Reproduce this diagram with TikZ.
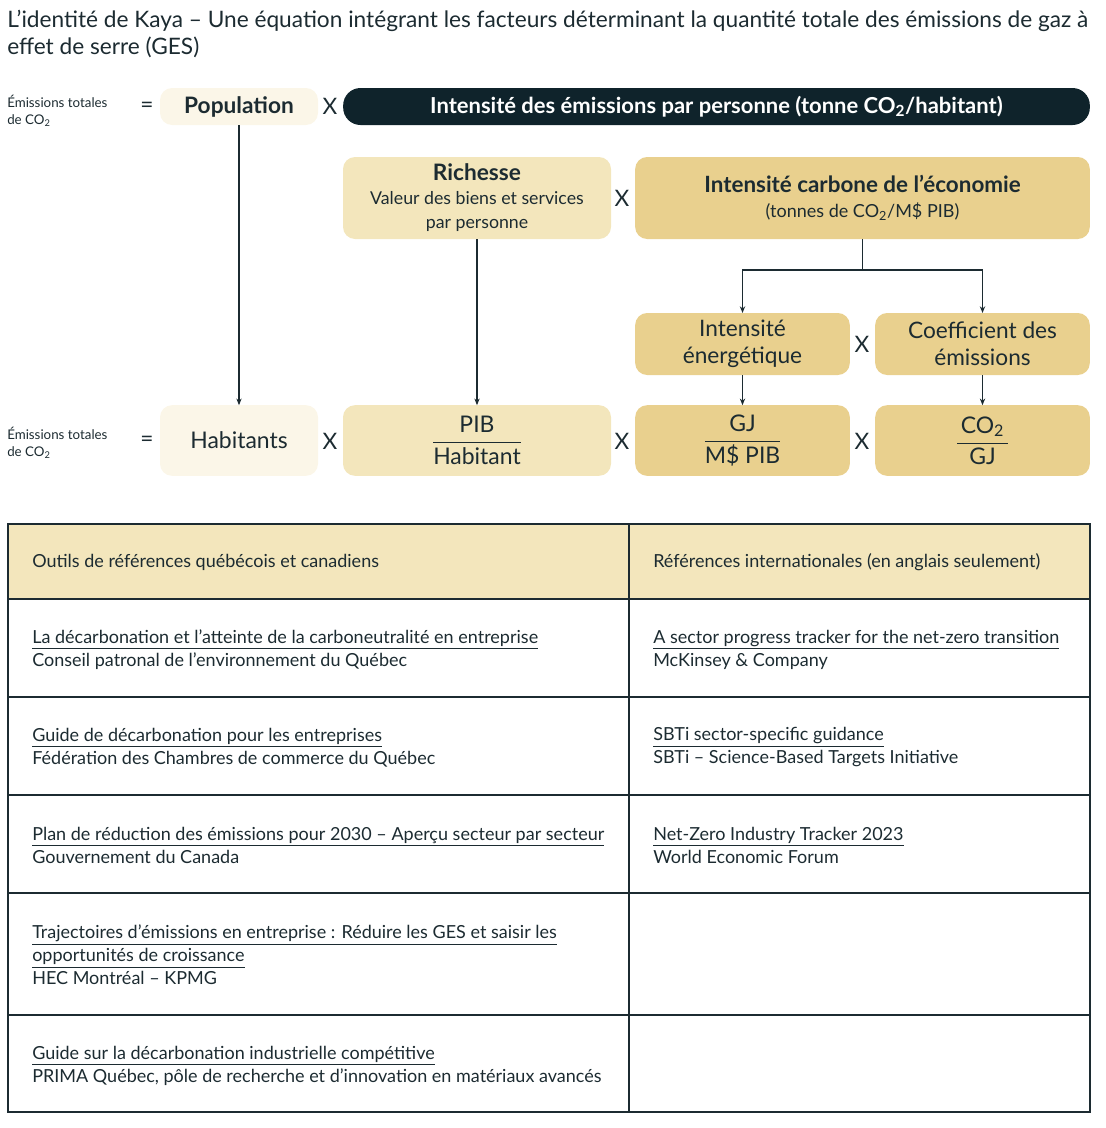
\documentclass[tikz,border=0pt]{standalone}
\usepackage{fontspec}
\setmainfont{Lato}
\usetikzlibrary{arrows.meta}
\definecolor{kayacream}{HTML}{FBF6E8}
\definecolor{kayasand}{HTML}{F3E6BC}
\definecolor{kayagold}{HTML}{E9D08E}
\definecolor{kayanight}{HTML}{0F232B}
\definecolor{kayaink}{HTML}{1C2B31}
\newcommand\kfrac[2]{$\displaystyle\frac{\mbox{#1}}{\mbox{#2}}$}
\newcommand\cotwo{CO\textsubscript{2}}
\tikzset{
	kbox/.style={rounded corners=9pt, inner sep=0pt, outer sep=0pt, align=center, text=kayaink},
	times/.style={text=kayaink, font=\fontsize{17}{19}\selectfont},
	flow/.style={draw=kayaink, line width=0.9pt, -{Stealth[length=5pt,width=4pt]}},
	cell/.style={anchor=west, align=left, inner sep=0pt, text=kayaink, font=\fontsize{13.5}{17.25}\selectfont},
	tablerule/.style={draw=kayaink, line width=1.3pt}
}

\begin{document}
\begin{tikzpicture}[x=0.75pt, y=-0.75pt]
	
	\useasboundingbox (0,0) rectangle (1106,1128);
	
	% titre
	\node (title) [anchor=north west, align=left, text=kayaink, inner sep=0pt,
		font=\fontsize{17}{20.25}\selectfont] at (7,10)
		{L’identité de Kaya – Une équation intégrant les facteurs déterminant la quantité totale des émissions de gaz à\\effet de serre (GES)};
	
	% premiere ligne
	\node (lbltop) [anchor=west, align=left, text=kayaink, inner sep=0pt,
		font=\fontsize{10}{12.75}\selectfont] at (7,111) {Émissions totales\\de \cotwo};
	\node (eqtop) [times] at (147,107) {=};
	\node (pop) [kbox, fill=kayacream, minimum width=118.5pt, minimum height=27.75pt,
		font=\fontsize{17}{19}\selectfont\bfseries] at (239,106.5) {Population};
	\node (xa) [times] at (330,106) {X};
	\node (banner) [kbox, fill=kayanight, text=white, rounded corners=13pt,
		minimum width=560pt, minimum height=27.75pt,
		font=\fontsize{16.5}{18}\selectfont\bfseries] at (716.5,106.5)
		{Intensité des émissions par personne (tonne \cotwo/habitant)};
	
	% richesse et intensite carbone
	\node (rich) [kbox, fill=kayasand, minimum width=201pt, minimum height=61.5pt,
		font=\fontsize{13.3}{18}\selectfont] at (477,198)
		{{\fontsize{17}{19}\selectfont\bfseries Richesse}\\Valeur des biens et services\\par personne};
	\node (xb) [times] at (622,198) {X};
	\node (carb) [kbox, fill=kayagold, minimum width=341pt, minimum height=61.5pt,
		font=\fontsize{13.5}{19}\selectfont] at (862.5,198)
		{{\fontsize{16.8}{19}\selectfont\bfseries Intensité carbone de l’économie}\\(tonnes de \cotwo/M\$ PIB)};
	
	% decomposition
	\node (ener) [kbox, fill=kayagold, minimum width=161pt, minimum height=46.5pt,
		font=\fontsize{17}{20}\selectfont] at (742.5,344) {Intensité\\énergétique};
	\node (xc) [times] at (862,344) {X};
	\node (coef) [kbox, fill=kayagold, minimum width=161pt, minimum height=46.5pt,
		font=\fontsize{17}{20}\selectfont] at (982.5,344) {Coefficient des\\émissions};
	
	% derniere ligne
	\node (lblbot) [anchor=west, align=left, text=kayaink, inner sep=0pt,
		font=\fontsize{10}{12.75}\selectfont] at (7,443) {Émissions totales\\de \cotwo};
	\node (eqbot) [times] at (147,441) {=};
	\node (hab) [kbox, fill=kayacream, minimum width=118.5pt, minimum height=53pt,
		font=\fontsize{17.2}{19}\selectfont] at (239,440.5) {Habitants};
	\node (xd) [times] at (330,441) {X};
	\node (pib) [kbox, fill=kayasand, minimum width=201pt, minimum height=53pt,
		font=\fontsize{17.2}{19}\selectfont] at (477,440.5) {\kfrac{PIB}{Habitant}};
	\node (xe) [times] at (622,441) {X};
	\node (gj) [kbox, fill=kayagold, minimum width=161pt, minimum height=53pt,
		font=\fontsize{17.2}{19}\selectfont] at (742.5,440.5) {\kfrac{GJ}{M\$ PIB}};
	\node (xf) [times] at (862,441) {X};
	\node (co2) [kbox, fill=kayagold, minimum width=161pt, minimum height=53pt,
		font=\fontsize{17.2}{19}\selectfont] at (982.5,440.5) {\kfrac{\,\cotwo\,}{GJ}};
	
	% fleches
	\draw [flow] (pop.south) -- (hab.north);
	\draw [flow] (rich.south) -- (pib.north);
	\draw [draw=kayaink, line width=0.9pt] (carb.south) -- ++(0,31) coordinate (fork);
	\draw [flow] (fork) -| (ener.north);
	\draw [flow] (fork) -| (coef.north);
	\draw [flow] (ener.south) -- (gj.north);
	\draw [flow] (coef.south) -- (co2.north);
	
	% tableau
	\fill [kayasand] (8,524) rectangle (1090,599);
	\foreach \y in {599,697,795,893,1015}
		\draw [tablerule] (8,\y) -- (1090,\y);
	\draw [tablerule] (629,524) -- (629,1112);
	\draw [tablerule] (8,524) rectangle (1090,1112);
	
	\node (headqc) [cell] at (32,562) {Outils de références québécois et canadiens};
	\node (headint) [cell] at (653,562) {Références internationales (en anglais seulement)};
	
	\node (qca) [cell] at (32,649.5)
		{\underline{La décarbonation et l’atteinte de la carboneutralité en entreprise}\\Conseil patronal de l’environnement du Québec};
	\node (qcb) [cell] at (32,747.5)
		{\underline{Guide de décarbonation pour les entreprises}\\Fédération des Chambres de commerce du Québec};
	\node (qcc) [cell] at (32,845.5)
		{\underline{Plan de réduction des émissions pour 2030 – Aperçu secteur par secteur}\\Gouvernement du Canada};
	\node (qcd) [cell] at (32,955)
		{\underline{Trajectoires d’émissions en entreprise : Réduire les GES et saisir les}\\\underline{opportunités de croissance}\\HEC Montréal – KPMG};
	\node (qce) [cell] at (32,1065.5)
		{\underline{Guide sur la décarbonation industrielle compétitive}\\PRIMA Québec, pôle de recherche et d’innovation en matériaux avancés};
	
	\node (inta) [cell] at (653,649.5)
		{\underline{A sector progress tracker for the net-zero transition}\\McKinsey \& Company};
	\node (intb) [cell] at (653,747.5)
		{\underline{SBTi sector-specific guidance}\\SBTi – Science-Based Targets Initiative};
	\node (intc) [cell] at (653,845.5)
		{\underline{Net-Zero Industry Tracker 2023}\\World Economic Forum};

\end{tikzpicture}
\end{document}
